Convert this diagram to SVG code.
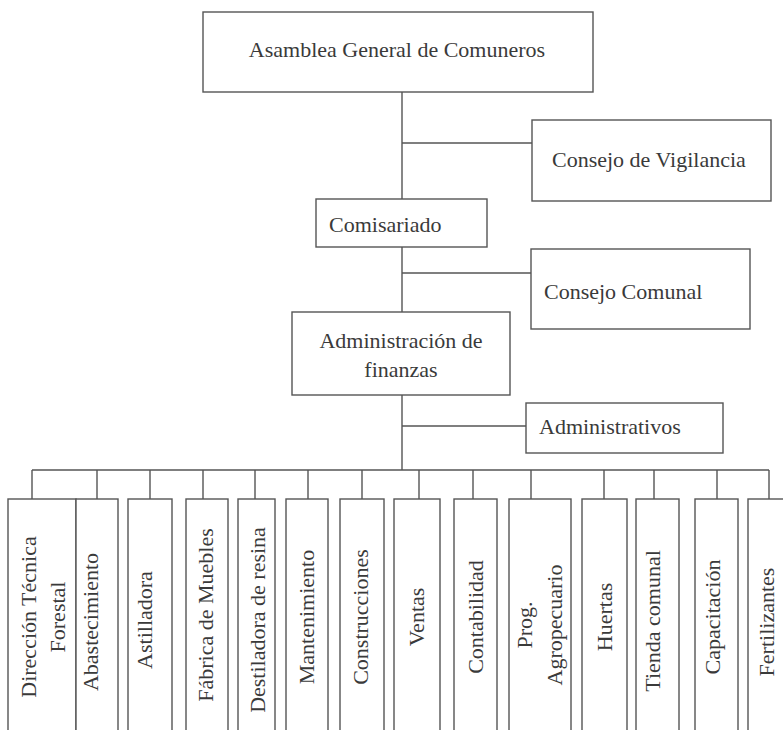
<svg xmlns="http://www.w3.org/2000/svg" width="783" height="730" viewBox="0 0 783 730">
<style>
.box{fill:#fff;stroke:#555;stroke-width:1.4}
.ln{fill:none;stroke:#555;stroke-width:1.4}
text{font-family:"Liberation Serif","Times New Roman",serif;font-size:22px;fill:#3a3a3a}
.c{text-anchor:middle}
</style>
<rect width="783" height="730" fill="#fff"/>
<g id="connectors">
<path class="ln" d="M402 92V199M402 247V312M402 395V470M402 143H532M402 273H531M402 426H526M32 470H769"/>
<path class="ln" d="M32 470V499M97 470V499M150 470V499M203 470V499M255 470V499M308 470V499M362 470V499M419 470V499M473 470V499M531 470V499M604 470V499M654 470V499M717 470V499M769 470V499"/>
</g>
<g id="asamblea"><rect class="box" x="203" y="12" width="390" height="80"/><text class="c" x="397" y="57">Asamblea General de Comuneros</text></g>
<g id="vigilancia"><rect class="box" x="532" y="120" width="239" height="81"/><text x="552" y="167">Consejo de Vigilancia</text></g>
<g id="comisariado"><rect class="box" x="316" y="199" width="171" height="48"/><text x="329" y="232">Comisariado</text></g>
<g id="comunal"><rect class="box" x="531" y="249" width="219" height="80"/><text x="544" y="299">Consejo Comunal</text></g>
<g id="finanzas"><rect class="box" x="292" y="312" width="218" height="83"/><text class="c" x="401" y="348">Administración de</text><text class="c" x="401" y="377">finanzas</text></g>
<g id="administrativos"><rect class="box" x="526" y="403" width="197" height="50"/><text x="539" y="434">Administrativos</text></g>
<g id="d1"><rect class="box" x="8" y="499" width="68" height="250"/><text class="c" transform="translate(36 617) rotate(-90)">Dirección Técnica</text><text class="c" transform="translate(65 617) rotate(-90)">Forestal</text></g>
<g id="d2"><rect class="box" x="76" y="499" width="42" height="250"/><text class="c" transform="translate(98 622) rotate(-90)">Abastecimiento</text></g>
<g id="d3"><rect class="box" x="128" y="499" width="44" height="250"/><text class="c" transform="translate(152 620) rotate(-90)">Astilladora</text></g>
<g id="d4"><rect class="box" x="186" y="499" width="42" height="250"/><text class="c" transform="translate(213 615) rotate(-90)">Fábrica de Muebles</text></g>
<g id="d5"><rect class="box" x="238" y="499" width="37" height="250"/><text class="c" transform="translate(265 620) rotate(-90)">Destiladora de resina</text></g>
<g id="d6"><rect class="box" x="286" y="499" width="42" height="250"/><text class="c" transform="translate(314 617) rotate(-90)">Mantenimiento</text></g>
<g id="d7"><rect class="box" x="340" y="499" width="44" height="250"/><text class="c" transform="translate(368 617) rotate(-90)">Construcciones</text></g>
<g id="d8"><rect class="box" x="394" y="499" width="46" height="250"/><text class="c" transform="translate(424 617) rotate(-90)">Ventas</text></g>
<g id="d9"><rect class="box" x="454" y="499" width="43" height="250"/><text class="c" transform="translate(483 617) rotate(-90)">Contabilidad</text></g>
<g id="d10"><rect class="box" x="509" y="499" width="62" height="250"/><text class="c" transform="translate(532 625) rotate(-90)">Prog.</text><text class="c" transform="translate(562 625) rotate(-90)">Agropecuario</text></g>
<g id="d11"><rect class="box" x="582" y="499" width="45" height="250"/><text class="c" transform="translate(612 617) rotate(-90)">Huertas</text></g>
<g id="d12"><rect class="box" x="636" y="499" width="43" height="250"/><text class="c" transform="translate(660 621) rotate(-90)">Tienda comunal</text></g>
<g id="d13"><rect class="box" x="695" y="499" width="43" height="250"/><text class="c" transform="translate(720 617) rotate(-90)">Capacitación</text></g>
<g id="d14"><rect class="box" x="748" y="499" width="60" height="250"/><text class="c" transform="translate(774 622) rotate(-90)">Fertilizantes</text></g>
</svg>
